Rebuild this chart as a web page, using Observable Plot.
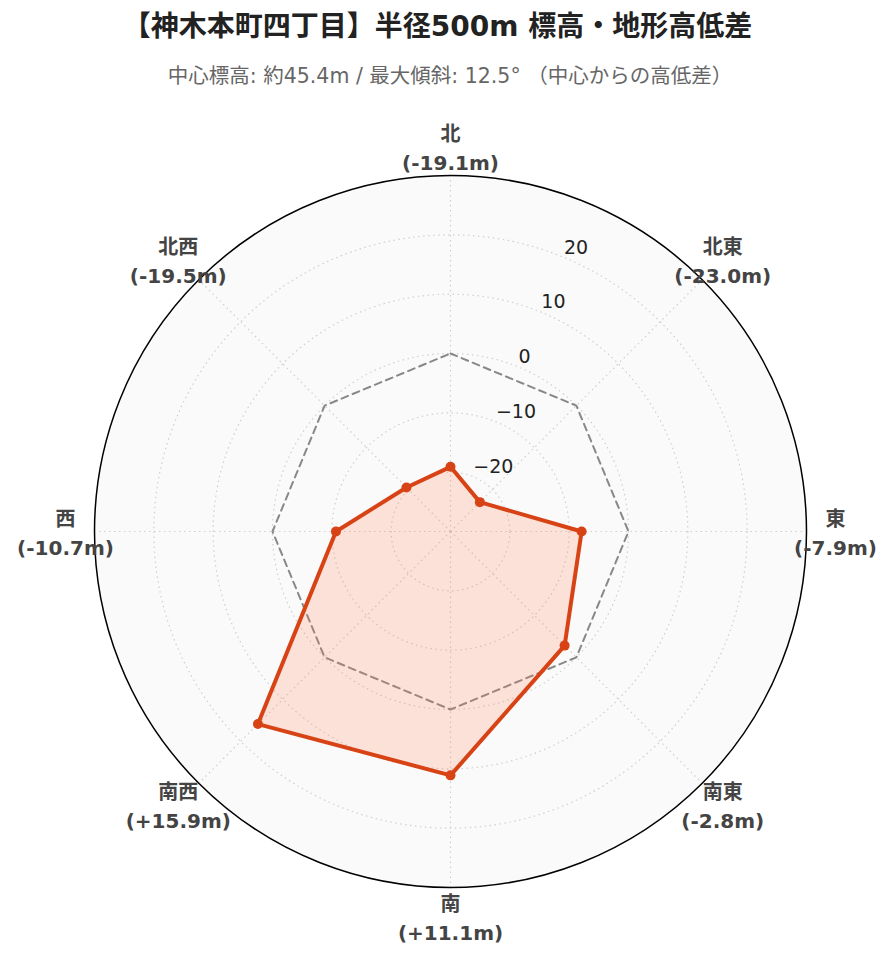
<!DOCTYPE html>
<html>
<head>
<meta charset="utf-8">
<script src="https://cdn.jsdelivr.net/npm/d3@7"></script>
<script src="https://cdn.jsdelivr.net/npm/@observablehq/plot@0.6"></script>
<style>
  html, body { margin: 0; padding: 0; background: #fff; }
  #header { position: relative; width: 892px; height: 100px; }
  #title { position: absolute; left: 0; width: 875px; top: 12px; text-align: center; white-space: nowrap;
    font-family: "DejaVu Sans", "Noto Sans CJK JP", sans-serif; font-weight: bold; font-size: 28px; line-height: 30px; color: #222; }
  #subtitle { position: absolute; left: 0; width: 900px; top: 65px; text-align: center; white-space: nowrap;
    font-family: "DejaVu Sans", "Noto Sans CJK JP", sans-serif; font-size: 20.5px; line-height: 22px; color: #666; }
</style>
</head>
<body>
<div id="header">
  <div id="title">【神木本町四丁目】半径500m 標高・地形高低差</div>
  <div id="subtitle">中心標高: 約45.4m / 最大傾斜: 12.5° （中心からの高低差）</div>
</div>
<div id="chart"></div>
<script>
// ---- data ----
const directions = ["北", "北東", "東", "南東", "南", "南西", "西", "北西"];
const elevationDiff = [-19.1, -23.0, -7.9, -2.8, 11.1, 15.9, -10.7, -19.5];
const radialTicks = [-20, -10, 0, 10, 20];
const radialDomain = [-30, 30];
const referenceValue = 0;

// ---- geometry helpers ----
const W = 892, H = 862;
const R = 356;                         // outer radius in px
const cx = 450, cy = 431;              // center in svg px
const span = radialDomain[1] - radialDomain[0];
const toU = v => v - radialDomain[0];  // radial unit (0..span)
const angle = i => (i * 2 * Math.PI) / directions.length;
const polar = (u, i) => ({x: u * Math.sin(angle(i)), y: u * Math.cos(angle(i))});
const pxToU = px => px * span / R;

const pts = directions.map((d, i) => ({dir: d, v: elevationDiff[i], ...polar(toU(elevationDiff[i]), i)}));
const closed = [...pts, pts[0]];
const ref = directions.map((d, i) => polar(toU(referenceValue), i));
const refClosed = [...ref, ref[0]];
const spokes = directions.map((d, i) => { const p = polar(span, i); return {x1: 0, y1: 0, x2: p.x, y2: p.y}; });
const tickAngle = Math.PI / 8;
const tickLabels = radialTicks.map(t => ({t, x: toU(t) * Math.sin(tickAngle), y: toU(t) * Math.cos(tickAngle)}));
const dirLabels = directions.map((d, i) => {
  const v = elevationDiff[i];
  const s = (v > 0 ? "+" : "") + v.toFixed(1);
  return {label: `${d}\n(${s}m)`, ...polar(pxToU(385), i)};
});
const rPx = v => toU(v) * R / span;

const gridStyle = {stroke: "#cfcfcf", strokeWidth: 1.2, strokeDasharray: "1.5,3.5"};
const red = "#d84315";

const chart = Plot.plot({
  width: W,
  height: H,
  x: {domain: [-span, span], range: [cx - R, cx + R], axis: null},
  y: {domain: [-span, span], range: [cy + R, cy - R], axis: null},
  r: {type: "identity"},
  style: {background: "#fff", overflow: "visible"},
  marks: [
    Plot.dot([radialDomain[1]], {x: () => 0, y: () => 0, r: d => rPx(d), fill: "#fafafa", stroke: "none"}),
    Plot.dot(radialTicks, {x: () => 0, y: () => 0, r: d => rPx(d), fill: "none", ...gridStyle}),
    Plot.link(spokes, {x1: "x1", y1: "y1", x2: "x2", y2: "y2", ...gridStyle}),
    Plot.line(refClosed, {x: "x", y: "y", stroke: "#888", strokeWidth: 2, strokeDasharray: "7,5", curve: "linear"}),
    Plot.line(closed, {x: "x", y: "y", fill: "#ff7f50", fillOpacity: 0.2, stroke: "none", curve: "linear"}),
    Plot.line(closed, {x: "x", y: "y", stroke: red, strokeWidth: 4, curve: "linear", strokeLinejoin: "miter"}),
    Plot.dot(pts, {x: "x", y: "y", r: 5, fill: red, stroke: "none"}),
    Plot.dot([radialDomain[1]], {x: () => 0, y: () => 0, r: d => rPx(d), fill: "none", stroke: "#000", strokeWidth: 1.5}),
    Plot.text(tickLabels, {x: "x", y: "y", text: d => d.t === 0 ? "0" : (d.t < 0 ? "\u2212" + Math.abs(d.t) : String(d.t)),
      textAnchor: "start", dy: -10, fontSize: 19, fill: "#222", fontFamily: "DejaVu Sans"}),
    Plot.text(dirLabels, {x: "x", y: "y", text: "label", textAnchor: "middle", lineAnchor: "middle", lineHeight: 1.45,
      fontSize: 20, fontWeight: "bold", fill: "#444", fontFamily: "DejaVu Sans, Noto Sans CJK JP"})
  ]
});
document.getElementById("chart").appendChild(chart);
</script>
</body>
</html>
